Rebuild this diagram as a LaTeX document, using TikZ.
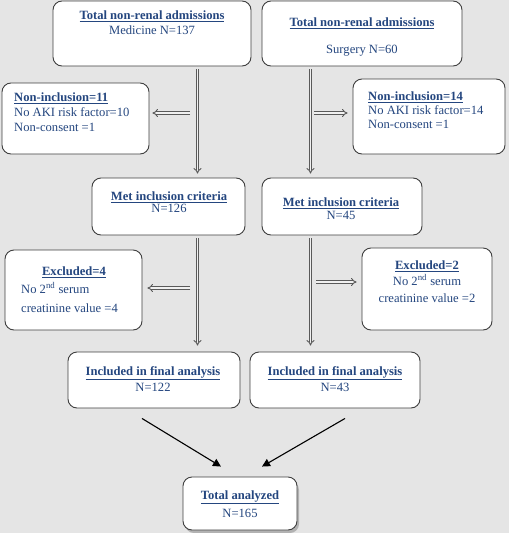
\documentclass[tikz,border=0pt]{standalone}
\usepackage{fontspec}
\setmainfont{Liberation Serif}
\usepackage{xcolor}
\usepackage{tikz}
\usetikzlibrary{arrows.meta, positioning, calc}
\definecolor{flowink}{HTML}{24467F}
\definecolor{flowedge}{HTML}{3F3F3F}
\definecolor{flowbg}{HTML}{E5E5E5}
\newcommand{\boxhead}[1]{\underline{\textbf{#1}}}

\begin{document}
\begin{tikzpicture}[x=1pt, y=-1pt, font=\fontsize{12.6}{15}\selectfont,
  fbox/.style={draw=flowedge, fill=white, rounded corners=9pt, line width=0.9pt,
               inner sep=0pt},
  ftxt/.style={text=flowink, align=center, inner sep=0pt},
  fltxt/.style={text=flowink, align=left, inner sep=0pt, anchor=west},
  dbl/.style={draw=gray!70!black, double=gray!12, double distance=1.8pt,
              line width=0.9pt, -{Implies}},
  blk/.style={draw=black, line width=1.1pt, -{Triangle[length=8pt, width=8pt]}}
]
% ---- canvas -------------------------------------------------------------
\useasboundingbox (0,0) rectangle (517,533);
\fill[white] (0,0) rectangle (517,533);
\fill[flowbg] (0,0) rectangle (509,533);

% ---- boxes --------------------------------------------------------------
\node[fbox, minimum width=198, minimum height=65] (tl) at (152,33.5) {};
\node[fbox, minimum width=200, minimum height=65] (tr) at (362,33.5) {};
\node[fbox, minimum width=147, minimum height=71] (ni11) at (75.5,118.5) {};
\node[fbox, minimum width=152, minimum height=75] (ni14) at (429,116.5) {};
\node[fbox, minimum width=153, minimum height=57] (ml) at (168.5,206.5) {};
\node[fbox, minimum width=160, minimum height=57] (mr) at (342,206.5) {};
\node[fbox, minimum width=137, minimum height=80] (ex4) at (73.5,290) {};
\node[fbox, minimum width=130, minimum height=82] (ex2) at (427,289) {};
\node[fbox, minimum width=172, minimum height=56] (il) at (154,380) {};
\node[fbox, minimum width=170, minimum height=56] (ir) at (335,380) {};
\fill[gray!60, rounded corners=9pt] (185,481) rectangle (299,533);
\node[fbox, minimum width=114, minimum height=53] (tot) at (240,503.5) {};

% ---- texts --------------------------------------------------------------
\node[ftxt] (tlt) at (152,22.5) {\boxhead{Total non-renal admissions}\\ Medicine N=137};
\node[ftxt] (trh) at (362,23) {\boxhead{Total non-renal admissions}};
\node[ftxt] (trn) at (362,51) {Surgery N=60};
\node[fltxt] (ni11t) at (14,112.5)
  {\boxhead{Non-inclusion=11}\\ No AKI risk factor=10\\ Non-consent =1};
\node[fltxt] (ni14t) at (368,110.5)
  {\boxhead{Non-inclusion=14}\\[-1pt] No AKI risk factor=14\\[-1pt] Non-consent =1};
\node[ftxt] (mlt) at (169,202) {\boxhead{Met inclusion criteria}\\[-3pt] N=126};
\node[ftxt] (mrt) at (341,208.5) {\boxhead{Met inclusion criteria}\\[-2pt] N=45};
\node[ftxt] (ex4h) at (74,272) {\boxhead{Excluded=4}};
\node[fltxt] (ex4t) at (21,297.5) {No 2\textsuperscript{nd} serum\\[4pt] creatinine value =4};
\node[ftxt] (ex2t) at (427,281.5)
  {\boxhead{Excluded=2}\\[1pt] No 2\textsuperscript{nd} serum\\[2pt] creatinine value =2};
\node[ftxt] (ilt) at (153,379) {\boxhead{Included in final analysis}\\[1pt] N=122};
\node[ftxt] (irt) at (335,379) {\boxhead{Included in final analysis}\\[1pt] N=43};
\node[ftxt] (tott) at (240,504) {\boxhead{Total analyzed}\\[3pt] N=165};

% ---- arrows -------------------------------------------------------------
\coordinate (cl) at (197.5,0);
\coordinate (cr) at (310.5,0);
\draw[dbl] ([yshift=-3pt]tl.south -| cl) -- ([yshift=4pt]ml.north -| cl);
\draw[dbl] ([yshift=-3pt]tr.south -| cr) -- ([yshift=4pt]mr.north -| cr);
\draw[dbl] ([yshift=-3pt]ml.south -| cl) -- ([yshift=6pt]il.north -| cl);
\draw[dbl] ([yshift=-3pt]mr.south -| cr) -- ([yshift=6pt]ir.north -| cr);

\coordinate (h1) at (190,113);
\coordinate (h2) at (314,113);
\coordinate (h3) at (190,288);
\coordinate (h4) at (316,282);
\draw[dbl] (h1) -- ([xshift=3pt]h1 -| ni11.east);
\draw[dbl] (h2) -- ([xshift=-5pt]h2 -| ni14.west);
\draw[dbl] (h3) -- ([xshift=5pt]h3 -| ex4.east);
\draw[dbl] (h4) -- ([xshift=-5pt]h4 -| ex2.west);

\draw[blk] ([xshift=-12pt,yshift=-10pt]il.south) -- ([xshift=-19pt,yshift=10pt]tot.north);
\draw[blk] ([xshift=10pt,yshift=-10pt]ir.south) -- ([xshift=22pt,yshift=10pt]tot.north);
\end{tikzpicture}
\end{document}
